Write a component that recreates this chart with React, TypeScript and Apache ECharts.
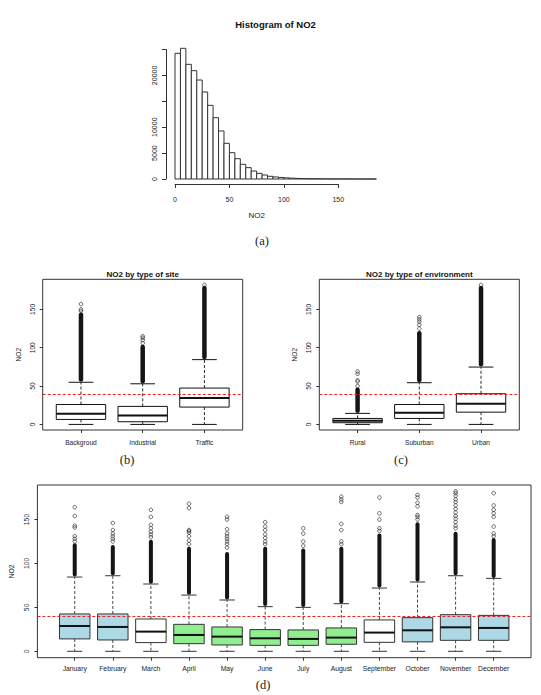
import React, { useEffect, useRef } from 'react';
import * as echarts from 'echarts';

// ---------------- DATA ----------------
// (a) histogram of NO2: bin edges and counts
const histBreaks = [0, 5, 10, 15, 20, 25, 30, 35, 40, 45, 50, 55, 60, 65, 70, 75, 80, 85, 90, 95, 100,
  105, 110, 115, 120, 125, 130, 135, 140, 145, 150, 155, 160, 165, 170, 175, 180, 185];
const histCounts = [24260, 25230, 22140, 20910, 19110, 16800, 14220, 11840, 9270, 6890, 5080, 3920,
  2830, 2190, 1540, 1090, 770, 520, 400, 300, 220, 160, 120, 85, 60, 45, 35, 25, 18, 13, 10, 8, 6, 5, 4, 3, 2];
const histXTicks = [0, 50, 100, 150];
const histYTicks = [0, 5000, 10000, 15000, 20000, 25000];
const histYLabels = [0, 5000, 10000, 20000];

// boxplot stats: [lower whisker, Q1, median, Q3, upper whisker]
const boxYTicks = [0, 50, 100, 150];
const limitNO2 = 40;

// (b) by type of site
const siteCategories = ['Backgroud', 'Industrial', 'Traffic'];
const siteStats = [
  [0, 6.5, 14, 26, 55],
  [0, 3.5, 11.7, 23.5, 53],
  [0, 22.6, 34.4, 47.4, 84.5],
];
const siteDenseOutliers = [[55.5, 146], [53.5, 104], [85, 181]];
const siteSparseOutliers = [[148, 150, 157], [106, 110, 113, 115], [182]];

// (c) by type of environment
const envCategories = ['Rural', 'Suburban', 'Urban'];
const envStats = [
  [0, 2.2, 4.8, 7.8, 14.4],
  [0, 7.8, 15.2, 26, 54.4],
  [0, 16, 27, 40, 74.8],
];
const envDenseOutliers = [[15, 48], [55, 122], [75.5, 181]];
const envSparseOutliers = [[50, 56, 57.5, 66, 69], [125, 130, 134, 137, 140], [182]];

// (d) by month
const months = ['January', 'February', 'March', 'April', 'May', 'June', 'July', 'August',
  'September', 'October', 'November', 'December'];
const monthGroup = ['cold', 'cold', 'transition', 'warm', 'warm', 'warm', 'warm', 'warm',
  'transition', 'cold', 'cold', 'cold'];
const monthStats = [
  [0, 14.1, 28.8, 42.5, 84.5],
  [0, 12.9, 27.7, 42.5, 86],
  [0, 9.9, 22.4, 36.8, 76.6],
  [0, 8.7, 18.6, 30.7, 64],
  [0, 7.2, 16.7, 27.7, 58.4],
  [0, 6.8, 14.8, 24.7, 50.8],
  [0, 6.8, 14.1, 24.3, 50],
  [0, 8, 15.6, 26.6, 54.2],
  [0, 10.2, 21.3, 35.7, 72],
  [0, 10.7, 23.9, 38.3, 78.9],
  [0, 12.5, 27.3, 41.7, 86],
  [0, 12.5, 26.6, 40.9, 83],
];
const monthDenseOutliers = [
  [85, 123], [86.5, 121], [77, 127], [64.5, 119], [59, 113], [51.5, 119],
  [50.5, 117], [54.5, 119], [72.5, 134], [79.5, 147], [86.5, 136], [83.5, 129],
];
const monthSparseOutliers = [
  [125, 128, 131, 141, 143, 154, 164],
  [125, 128, 131, 134, 138, 146],
  [130, 133, 136, 140, 144, 153, 161],
  [122, 126, 131, 135, 137, 138, 163, 168],
  [118, 122, 125, 128, 131, 134, 139, 150, 153],
  [122, 125, 129, 133, 138, 142, 147],
  [120, 125, 134, 140],
  [122, 125, 138, 145, 170, 173, 176],
  [137, 140, 150, 157, 175],
  [150, 153, 155, 165, 169, 175, 178],
  [140, 143, 147, 151, 154, 158, 162, 166, 170, 173, 177, 180, 182],
  [131, 134, 142, 153, 157, 161, 166, 180],
];

// ---------------- STYLE / LAYOUT ----------------
const FONT = '"Liberation Sans", Arial, Helvetica, sans-serif';
const SERIF = '"Liberation Serif", "DejaVu Serif", serif';
const INK = '#222';
const groupFill: Record<string, string> = { cold: '#ADD8E6', transition: '#FFFFFF', warm: '#90EE90' };
const boxYRange = [-7.28, 189.28];

const gridHist = { left: 175, top: 49.5, width: 163.3, height: 129.5 };
const gridSite = { left: 42.7, top: 279.3, width: 200, height: 150.7 };
const gridEnv = { left: 319.3, top: 279.3, width: 200, height: 150.7 };
const gridMonth = { left: 26.7, top: 485, width: 504.3, height: 172.7 };

function makeBoxRender(fills: string[], stroke: string) {
  return (params: any, api: any) => {
    const i = api.value(0);
    const pLow = api.coord([i, api.value(1)]);
    const cx = pLow[0];
    const yLow = pLow[1];
    const yQ1 = api.coord([i, api.value(2)])[1];
    const yMed = api.coord([i, api.value(3)])[1];
    const yQ3 = api.coord([i, api.value(4)])[1];
    const yHigh = api.coord([i, api.value(5)])[1];
    const w = api.size([0.8, 0], [i, 0])[0];
    const hw = w / 2;
    const sw = w / 4;
    const dash = { stroke, lineWidth: 0.9, lineDash: [3, 2] };
    const solid = { stroke, lineWidth: 1 };
    return {
      type: 'group',
      children: [
        { type: 'line', shape: { x1: cx, y1: yQ3, x2: cx, y2: yHigh }, style: dash },
        { type: 'line', shape: { x1: cx, y1: yQ1, x2: cx, y2: yLow }, style: dash },
        { type: 'line', shape: { x1: cx - sw, y1: yHigh, x2: cx + sw, y2: yHigh }, style: solid },
        { type: 'line', shape: { x1: cx - sw, y1: yLow, x2: cx + sw, y2: yLow }, style: solid },
        {
          type: 'rect',
          shape: { x: cx - hw, y: yQ3, width: w, height: yQ1 - yQ3 },
          style: { fill: fills[params.dataIndex], stroke, lineWidth: 1 },
        },
        { type: 'line', shape: { x1: cx - hw, y1: yMed, x2: cx + hw, y2: yMed }, style: { stroke: '#111', lineWidth: 2 } },
      ],
    };
  };
}

function denseRender(width: number) {
  return (params: any, api: any) => {
    const i = api.value(0);
    const p0 = api.coord([i, api.value(1)]);
    const p1 = api.coord([i, api.value(2)]);
    return {
      type: 'rect',
      shape: { x: p0[0] - width / 2, y: p1[1], width, height: p0[1] - p1[1], r: width / 2 },
      style: { fill: '#151515' },
    };
  };
}

function boxPanel(
  idx: number,
  cats: string[],
  stats: number[][],
  dense: number[][],
  sparse: number[][],
  fills: string[],
  stroke: string,
  xPad: number,
  opts: { labelMargin: number; nameGap: number; fontSize: number; denseW: number; xLabelMargin: number }
) {
  const catIdx = cats.map((_, i) => i);
  const xAxis = {
    type: 'value',
    gridIndex: idx,
    min: -xPad,
    max: cats.length - 1 + xPad,
    axisLine: { show: false, onZero: false },
    splitLine: { show: false },
    axisTick: { show: true, customValues: catIdx, length: 3, lineStyle: { color: '#333', width: 1 } },
    axisLabel: {
      customValues: catIdx,
      formatter: (v: number) => cats[Math.round(v)] ?? '',
      margin: opts.xLabelMargin,
      fontSize: opts.fontSize,
      fontFamily: FONT,
      color: INK,
    },
  };
  const yAxis = {
    type: 'value',
    gridIndex: idx,
    min: boxYRange[0],
    max: boxYRange[1],
    axisLine: { show: false, onZero: false },
    splitLine: { show: false },
    axisTick: { show: true, customValues: boxYTicks, length: 3, lineStyle: { color: '#333', width: 1 } },
    axisLabel: {
      customValues: boxYTicks,
      rotate: 90,
      margin: opts.labelMargin,
      fontSize: opts.fontSize,
      fontFamily: FONT,
      color: INK,
      formatter: (v: number) => String(v),
    },
    name: 'NO2',
    nameLocation: 'middle',
    nameGap: opts.nameGap,
    nameTextStyle: { fontSize: opts.fontSize, fontFamily: FONT, color: INK },
  };
  const series = [
    {
      type: 'custom',
      xAxisIndex: idx,
      yAxisIndex: idx,
      renderItem: makeBoxRender(fills, stroke),
      data: stats.map((s, i) => [i, ...s]),
      encode: { x: 0, y: [1, 2, 3, 4, 5] },
      z: 2,
      silent: true,
    },
    {
      type: 'custom',
      xAxisIndex: idx,
      yAxisIndex: idx,
      renderItem: denseRender(opts.denseW),
      data: dense.map((d, i) => [i, d[0], d[1]]),
      encode: { x: 0, y: [1, 2] },
      z: 3,
      silent: true,
    },
    {
      type: 'scatter',
      xAxisIndex: idx,
      yAxisIndex: idx,
      symbol: 'circle',
      symbolSize: 3.6,
      itemStyle: { color: 'rgba(0,0,0,0)', borderColor: '#1a1a1a', borderWidth: 0.8 },
      data: sparse.flatMap((arr, i) => arr.map((v) => [i, v])),
      z: 4,
      silent: true,
      markLine: {
        silent: true,
        symbol: 'none',
        label: { show: false },
        lineStyle: { color: '#ee2222', type: [3, 2], width: 1 },
        data: [{ yAxis: limitNO2 }],
        z: 5,
      },
    },
  ];
  return { xAxis, yAxis, series };
}

export default function App() {
  const ref = useRef<HTMLDivElement>(null);

  useEffect(() => {
    if (!ref.current) return;
    const chart = echarts.init(ref.current, null, { renderer: 'svg' });

    const site = boxPanel(1, siteCategories, siteStats, siteDenseOutliers, siteSparseOutliers,
      siteCategories.map(() => '#FFFFFF'), '#111', 0.62,
      { labelMargin: 7, nameGap: 21, fontSize: 6.6, denseW: 4.5, xLabelMargin: 8.5 });
    const env = boxPanel(2, envCategories, envStats, envDenseOutliers, envSparseOutliers,
      envCategories.map(() => '#FFFFFF'), '#111', 0.62,
      { labelMargin: 7, nameGap: 21, fontSize: 6.6, denseW: 4.5, xLabelMargin: 8.5 });
    const month = boxPanel(3, months, monthStats, monthDenseOutliers, monthSparseOutliers,
      monthGroup.map((g) => groupFill[g]), '#333', 0.98,
      { labelMargin: 7.5, nameGap: 19, fontSize: 6.8, denseW: 4, xLabelMargin: 7 });

    const boxGridStyle = { show: true, borderColor: '#333', borderWidth: 1, backgroundColor: 'transparent' };

    const option: any = {
      animation: false,
      backgroundColor: '#ffffff',
      grid: [
        { ...gridHist, show: false },
        { ...gridSite, ...boxGridStyle },
        { ...gridEnv, ...boxGridStyle },
        { ...gridMonth, ...boxGridStyle },
      ],
      xAxis: [
        {
          type: 'value',
          gridIndex: 0,
          min: 0,
          max: 150,
          offset: 5,
          axisLine: { show: true, onZero: false, lineStyle: { color: '#333', width: 1 } },
          splitLine: { show: false },
          axisTick: { show: true, customValues: histXTicks, length: 4, lineStyle: { color: '#333', width: 1 } },
          axisLabel: { customValues: histXTicks, margin: 12, fontSize: 7, fontFamily: FONT, color: INK },
          name: 'NO2',
          nameLocation: 'middle',
          nameGap: 27,
          nameTextStyle: { fontSize: 8, fontFamily: FONT, color: INK },
        },
        site.xAxis,
        env.xAxis,
        month.xAxis,
      ],
      yAxis: [
        {
          type: 'value',
          gridIndex: 0,
          min: 0,
          max: 25000,
          offset: 9,
          axisLine: { show: true, onZero: false, lineStyle: { color: '#333', width: 1 } },
          splitLine: { show: false },
          axisTick: { show: true, customValues: histYTicks, length: 4, lineStyle: { color: '#333', width: 1 } },
          axisLabel: {
            customValues: histYLabels,
            rotate: 90,
            margin: 8,
            fontSize: 7,
            fontFamily: FONT,
            color: INK,
            formatter: (v: number) => String(v),
          },
        },
        site.yAxis,
        env.yAxis,
        month.yAxis,
      ],
      series: [
        {
          type: 'custom',
          xAxisIndex: 0,
          yAxisIndex: 0,
          silent: true,
          clip: false,
          encode: { x: [0, 1], y: 2 },
          data: histCounts.map((c, i) => [histBreaks[i], histBreaks[i + 1], c]),
          renderItem: (params: any, api: any) => {
            const a = api.coord([api.value(0), 0]);
            const b = api.coord([api.value(1), api.value(2)]);
            return {
              type: 'rect',
              shape: { x: a[0], y: b[1], width: b[0] - a[0], height: a[1] - b[1] },
              style: { fill: '#ffffff', stroke: '#333', lineWidth: 1 },
            };
          },
        },
        ...site.series,
        ...env.series,
        ...month.series,
      ],
      graphic: [
        { type: 'text', x: 275.5, y: 24, style: { text: 'Histogram of NO2', fill: '#111', fontSize: 9.5, fontWeight: 'bold', fontFamily: FONT, align: 'center', verticalAlign: 'middle' } },
        { type: 'text', x: 142.7, y: 274.7, style: { text: 'NO2 by type of site', fill: '#111', fontSize: 8, fontWeight: 'bold', fontFamily: FONT, align: 'center', verticalAlign: 'middle' } },
        { type: 'text', x: 419.3, y: 274.7, style: { text: 'NO2 by type of environment', fill: '#111', fontSize: 8, fontWeight: 'bold', fontFamily: FONT, align: 'center', verticalAlign: 'middle' } },
        { type: 'text', x: 262, y: 241, style: { text: '(a)', fill: '#222', fontSize: 12.5, fontFamily: SERIF, align: 'center', verticalAlign: 'middle' } },
        { type: 'text', x: 127, y: 460, style: { text: '(b)', fill: '#222', fontSize: 12.5, fontFamily: SERIF, align: 'center', verticalAlign: 'middle' } },
        { type: 'text', x: 401, y: 460, style: { text: '(c)', fill: '#222', fontSize: 12.5, fontFamily: SERIF, align: 'center', verticalAlign: 'middle' } },
        { type: 'text', x: 263, y: 685, style: { text: '(d)', fill: '#222', fontSize: 12.5, fontFamily: SERIF, align: 'center', verticalAlign: 'middle' } },
      ],
    };

    chart.setOption(option);
    return () => chart.dispose();
  }, []);

  return (
    <div
      ref={ref}
      style={{ position: 'absolute', left: 0, top: 0, width: 541, height: 695, background: '#fff' }}
    />
  );
}
